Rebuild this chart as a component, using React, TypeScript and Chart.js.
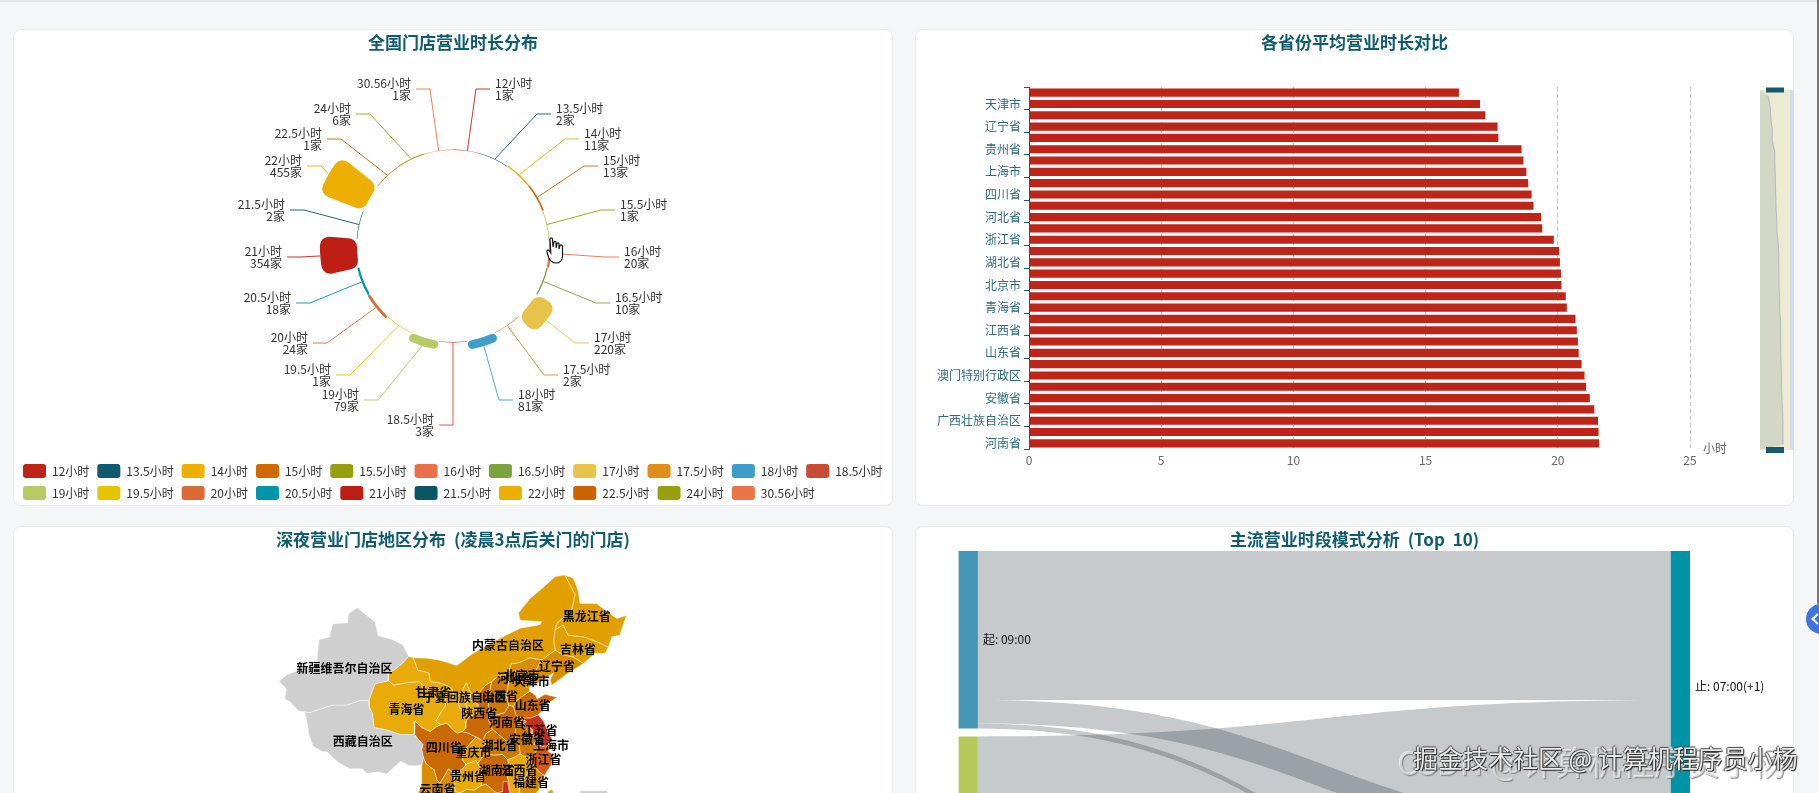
import React, { useEffect, useRef } from "react";
import Chart from "chart.js/auto";

const FONT = '"Noto Sans CJK SC", "Noto Sans", sans-serif';
const TEAL = "#0f5c6e";
Chart.defaults.font.family = FONT;
Chart.defaults.font.size = 12;

// ---- 全国门店营业时长分布
const hourLabels = ["12小时", "13.5小时", "14小时", "15小时", "15.5小时", "16小时", "16.5小时", "17小时", "17.5小时", "18小时", "18.5小时", "19小时", "19.5小时", "20小时", "20.5小时", "21小时", "21.5小时", "22小时", "22.5小时", "24小时", "30.56小时"];
const hourStores = [1, 2, 11, 13, 1, 20, 10, 220, 2, 81, 3, 79, 1, 24, 18, 354, 2, 455, 1, 6, 1];
const hourColors = ["#bd2319", "#115a6e", "#eeb000", "#d06a00", "#96a00e", "#e8714a", "#7ba33f", "#e8c34a", "#e08e1b", "#3f9ec9", "#ca4b35", "#b7ca66", "#e8c400", "#d96a36", "#0095a8", "#bd1f14", "#0a5566", "#eeb000", "#cc6200", "#98a00f", "#ea7348"];
// where each leader line bends, measured from the pie centre
const leaderBends = [[23, -157], [84, -132], [112, -107], [131, -80], [148, -36], [152, 11], [143, 57], [122, 97], [91, 129], [46, 154], [0, 179], [-75, 154], [-103, 129], [-126, 97], [-143, 57], [-152, 11], [-149, -36], [-132, -80], [-112, -107], [-83, -132], [-23, -157]];
const PIE_HOLE = 96;

// ---- 各省份平均营业时长对比 (top to bottom, only every other name is shown)
const provinceNames = ["吉林省", "天津市", "黑龙江省", "辽宁省", "内蒙古自治区", "贵州省", "甘肃省", "上海市", "宁夏回族自治区", "四川省", "山西省", "河北省", "陕西省", "浙江省", "云南省", "湖北省", "重庆市", "北京市", "海南省", "青海省", "湖南省", "江西省", "福建省", "山东省", "江苏省", "澳门特别行政区", "广东省", "安徽省", "香港特别行政区", "广西壮族自治区", "新疆维吾尔自治区", "河南省"];
const provinceHours = [16.26, 17.06, 17.26, 17.72, 17.75, 18.63, 18.7, 18.81, 18.88, 19.01, 19.08, 19.37, 19.41, 19.85, 20.05, 20.08, 20.12, 20.14, 20.3, 20.34, 20.67, 20.72, 20.76, 20.79, 20.9, 21.01, 21.07, 21.21, 21.38, 21.52, 21.54, 21.56];

// ---- 深夜营业门店地区分布: outlines in lon/lat, first listed is drawn on top
const mapNames = ["北京市", "天津市", "上海市", "重庆市", "广东省", "新疆维吾尔自治区", "西藏自治区", "青海省", "甘肃省", "宁夏回族自治区", "内蒙古自治区", "黑龙江省", "吉林省", "辽宁省", "河北省", "山西省", "山东省", "河南省", "陕西省", "四川省", "云南省", "贵州省", "湖北省", "安徽省", "江苏省", "浙江省", "江西省", "福建省", "湖南省", "广西壮族自治区", "台湾省", "南海诸岛"];
const mapStores = [20, 24, 18, 12, 160, 0, 0, 2, 4, 3, 8, 9, 10, 14, 22, 38, 65, 68, 55, 50, 20, 4, 44, 42, 130, 90, 5, 24, 66, 15, 1, 0];
const mapOutlines = [
  [[115.5, 40], [116.1, 40.9], [117.2, 40.6], [117.3, 40], [116.6, 39.5], [115.9, 39.6]],
  [[116.8, 39.7], [117.5, 40.2], [118, 39.2], [117.7, 38.6], [117, 38.9]],
  [[120.9, 31], [121.3, 31.5], [121.9, 31], [121.5, 30.7]],
  [[108.3, 32.2], [109.5, 31.7], [110.1, 31.4], [109.2, 30.5], [109.3, 29.4], [108.6, 28.7], [108.3, 29.1], [106.5, 28.6], [105.9, 29.2], [106.1, 30.2], [106.9, 31]],
  [[114.2, 24.9], [113.9, 26.3], [113.1, 26.3], [113, 25], [112, 24.8], [111.5, 23.6], [110.5, 22.4], [109.5, 21.5], [109.9, 21.5], [110.3, 20.3], [111.8, 21.6], [114.2, 22.3], [116, 22.9], [117.2, 23.6], [116.9, 24.7], [116, 24.8], [114.9, 24.6]],
  [[73.5, 39.5], [74.9, 40.4], [76.8, 40.9], [78.6, 41.4], [80.2, 42.1], [80.3, 43.3], [80.6, 45], [82.4, 45.3], [83, 47.1], [85.6, 47.2], [85.8, 48.4], [87.3, 49.2], [88.8, 48.3], [90.5, 47.3], [91, 45.5], [93.5, 45], [95.4, 44.3], [96.4, 42.8], [95.2, 41.8], [93.8, 41], [92.8, 40.6], [92.8, 39.6], [90.5, 39.2], [90, 38.3], [89.4, 37], [87.8, 37], [85.5, 36.4], [83, 36.4], [80.5, 35.8], [79, 35.4], [78, 35.5], [77, 35.6], [75.5, 36.8], [74.5, 37.2], [74.8, 38.5]],
  [[78, 35.5], [79, 35.4], [80.5, 35.8], [83, 36.4], [85.5, 36.4], [87.8, 37], [89.4, 37], [89.4, 36.2], [90, 35.3], [90.3, 33.4], [92, 33.2], [93, 33], [95, 32.5], [97.4, 32.5], [98.9, 31.2], [98.7, 30.5], [99, 29.5], [98.7, 28.5], [97.6, 28.4], [96.5, 28.4], [95, 29], [92.5, 27.3], [91, 27.6], [89, 27.4], [88.2, 28], [86, 28], [84, 28.8], [82, 30.2], [81, 30.3], [79.5, 31], [78.8, 32.5], [78.5, 34]],
  [[90.5, 39.2], [92.8, 39.6], [93.8, 39], [96, 39.3], [98.3, 39.5], [99.5, 38.5], [101.5, 37.8], [102.8, 37.3], [102.9, 36.3], [102, 35.3], [101.2, 34.3], [102, 33.8], [101.2, 33.5], [100.2, 32.9], [98.8, 33.4], [97.5, 34.3], [97.4, 32.5], [95, 32.5], [93, 33], [92, 33.2], [90.3, 33.4], [90, 35.3], [89.4, 36.2], [89.4, 37], [90, 38.3]],
  [[96.4, 42.8], [97.2, 42.6], [98, 41], [100, 40.6], [100.2, 39.5], [102.4, 39.2], [104, 38.6], [104.4, 37.5], [105, 37.3], [105.4, 36], [106.2, 35.4], [106.8, 35.7], [106.5, 36.6], [107.3, 37.1], [108.7, 36.5], [108.6, 35.3], [107.2, 34.9], [106.5, 34.3], [106.5, 33.4], [105.9, 32.9], [105, 32.7], [104.4, 33], [103.2, 34], [102, 33.8], [101.2, 34.3], [102, 35.3], [102.9, 36.3], [102.8, 37.3], [101.5, 37.8], [99.5, 38.5], [98.3, 39.5], [96, 39.3], [93.8, 39], [92.8, 39.6], [92.8, 40.6], [93.8, 41], [95.2, 41.8]],
  [[106.6, 39.3], [107.3, 38], [107.3, 37.1], [106.5, 36.6], [106.8, 35.7], [106.2, 35.4], [105.4, 36], [105, 37.3], [105.9, 38.3]],
  [[97.2, 42.6], [99.6, 42.55], [101.9, 42.3], [104.9, 41.6], [107.8, 43.2], [111.4, 44.75], [116.1, 46.5], [119.6, 46.94], [119.9, 47.35], [116.1, 47.56], [115.8, 48.5], [117.8, 50.37], [120.2, 51.9], [122.3, 53.3], [124, 53.5], [125.8, 50.9], [125.2, 48.9], [122.6, 47.14], [122.3, 46.31], [122, 44.75], [122.3, 43.6], [119.9, 42.35], [117.8, 42.6], [116, 42], [114.5, 41.8], [113.9, 40.4], [112.2, 40.2], [111.1, 39.5], [110, 39], [108.5, 37.7], [107.3, 38], [106.6, 39.3], [105.9, 38.3], [105, 37.3], [104.4, 37.5], [104, 38.6], [102.4, 39.2], [100.2, 39.5], [100, 40.6], [98, 41]],
  [[124, 53.5], [125.5, 53.08], [126.3, 51.52], [126.7, 49.75], [129.6, 49.75], [131.1, 48.9], [133.2, 47.77], [134.9, 48.19], [134.2, 46.73], [133.7, 45.58], [132.3, 45.37], [131.7, 44.02], [129.6, 44.75], [127.3, 45.37], [124.6, 45.58], [123.7, 46.94], [122.3, 46.31], [122.6, 47.14], [125.2, 48.9], [125.8, 50.9]],
  [[122.3, 46.31], [123.7, 46.94], [124.6, 45.58], [127.3, 45.37], [129.6, 44.75], [131.7, 44.02], [131.1, 43.2], [129.3, 43.2], [127.3, 41.85], [125.5, 42.7], [123.7, 43], [122.3, 43.6], [122, 44.75]],
  [[122.3, 43.6], [123.7, 43], [125.5, 42.7], [127.3, 41.85], [124.6, 40.6], [121.7, 39], [121.4, 39.7], [122, 40.6], [119.6, 39.5], [118.7, 40.6], [119.9, 42.35]],
  [[114.1, 39.5], [113.9, 40.4], [114.5, 41.8], [116, 42], [117.8, 42.6], [119.9, 42.35], [118.7, 40.6], [119.6, 39.5], [118.9, 39.1], [117.8, 38.8], [117.8, 38.2], [117, 37.8], [115.5, 37], [114.9, 36.2], [114.1, 36.4], [113.7, 37.5]],
  [[111.1, 39.5], [112.2, 40.2], [113.9, 40.4], [114.1, 39.5], [113.7, 37.5], [114.1, 36.4], [113.4, 35.4], [112, 35.1], [110.4, 34.7], [110.6, 36], [110.5, 37.5]],
  [[115.5, 37], [117, 37.8], [117.8, 38.2], [118.9, 37.6], [119.1, 37.2], [120.5, 37.8], [122.6, 37.4], [121, 36.6], [119.3, 35.1], [118, 34.7], [116.4, 34.7], [115.4, 35], [114.9, 36.2]],
  [[114.9, 36.2], [115.4, 35], [116.4, 34.7], [116, 33.9], [115.4, 33.6], [115.2, 32.6], [115.4, 31.6], [114.5, 31.7], [113.6, 31.7], [112.5, 32.4], [111.2, 33.2], [110.9, 33.7], [110.4, 34.7], [112, 35.1], [113.4, 35.4], [114.1, 36.4]],
  [[110, 39], [111.1, 39.5], [110.5, 37.5], [110.6, 36], [110.4, 34.7], [110.9, 33.7], [111.2, 33.2], [110, 32.6], [109.5, 31.7], [108.3, 32.2], [106.9, 32.7], [105.9, 32.9], [106.5, 33.4], [106.5, 34.3], [107.2, 34.9], [108.6, 35.3], [108.7, 36.5], [107.3, 37.1], [107.3, 38], [108.5, 37.7]],
  [[97.5, 34.3], [98.8, 33.4], [100.2, 32.9], [101.2, 33.5], [102, 33.8], [103.2, 34], [104.4, 33], [105, 32.7], [105.9, 32.9], [106.9, 32.7], [108.3, 32.2], [106.9, 31], [106.1, 30.2], [105.9, 29.2], [106.5, 28.6], [106.2, 28.2], [105.3, 27.7], [104.4, 27.5], [103.4, 28], [102.9, 27.3], [101.9, 26.1], [101.4, 26.6], [100.9, 27.9], [100.1, 28.3], [99.5, 28.7], [99, 29.5], [98.7, 30.5], [98.9, 31.2], [97.4, 32.5]],
  [[98.7, 28.5], [99, 29.5], [99.5, 28.7], [100.1, 28.3], [100.9, 27.9], [101.4, 26.6], [101.9, 26.1], [102.9, 27.3], [103.4, 28], [104.4, 27.5], [104.4, 26.5], [104.6, 25], [105.5, 24.8], [106, 23.2], [104, 22.8], [102, 21.2], [101, 21.8], [99.2, 22], [97.6, 24], [98.7, 25.9], [98.7, 27.5]],
  [[105.3, 27.7], [106.2, 28.2], [106.5, 28.6], [108.3, 29.1], [108.6, 28.7], [109.3, 27.8], [109.5, 26.8], [109.2, 25.8], [108, 25.2], [106.6, 25.3], [105.5, 24.8], [104.6, 25], [104.4, 26.5], [104.4, 27.5]],
  [[111.2, 33.2], [112.5, 32.4], [113.6, 31.7], [114.5, 31.7], [115.4, 31.6], [115.9, 31.2], [116.1, 30], [115.2, 29.6], [113.9, 29.2], [113, 29.9], [111.5, 29.8], [110, 30], [109.5, 29.6], [109.3, 29.4], [109.2, 30.5], [110.1, 31.4], [109.5, 31.7], [110, 32.6]],
  [[116.4, 34.6], [117.2, 34.2], [116.6, 33.9], [118.2, 33.2], [118.2, 32.5], [119.2, 32.1], [118.5, 31.2], [119.5, 31.1], [118.9, 30.3], [118, 29.5], [116.6, 29.7], [116.1, 30], [115.9, 31.2], [115.4, 31.6], [115.2, 32.6], [115.4, 33.6], [116, 33.9]],
  [[116.4, 34.7], [118, 34.7], [119.3, 35.1], [120.3, 34.2], [120.9, 33], [121.9, 31.7], [121.3, 31.5], [120.9, 31], [120, 31], [119.5, 31.1], [118.5, 31.2], [119.2, 32.1], [118.2, 32.5], [118.2, 33.2], [116.6, 33.9], [117.2, 34.2]],
  [[118.9, 30.3], [119.5, 31.1], [120, 31], [120.9, 31], [121.5, 30.7], [121, 30.3], [122, 29.9], [121.6, 28.5], [120.8, 27.6], [120.4, 27.1], [119.5, 27.6], [118.8, 28.2], [118.1, 28.9], [118, 29.5]],
  [[116.1, 30], [116.6, 29.7], [118, 29.5], [118.1, 28.9], [118.2, 28], [117.2, 27.2], [116.6, 26.5], [116, 25.5], [116, 24.8], [114.9, 24.6], [114.2, 24.9], [114.1, 26.3], [113.8, 27], [114.2, 28.2], [113.9, 29.2], [115.2, 29.6]],
  [[118.1, 28.9], [118.8, 28.2], [119.5, 27.6], [120.4, 27.1], [119.6, 26], [119.5, 25.3], [118.6, 24.5], [117.2, 23.6], [116.9, 24.7], [116, 24.8], [116, 25.5], [116.6, 26.5], [117.2, 27.2], [118.2, 28]],
  [[110, 30], [111.5, 29.8], [113, 29.9], [113.9, 29.2], [114.2, 28.2], [113.8, 27], [114.1, 26.3], [114.2, 24.9], [113, 25], [112, 24.8], [111.3, 25.2], [110, 26], [109.2, 25.8], [109.5, 26.8], [109.3, 27.8], [108.6, 28.7], [109.3, 29.4], [109.5, 29.6]],
  [[105.5, 24.8], [106.6, 25.3], [108, 25.2], [109.2, 25.8], [110, 26], [111.3, 25.2], [112, 24.8], [111.5, 23.6], [110.5, 22.4], [109.5, 21.5], [108, 21.6], [106.7, 22], [106, 23.2]],
  [[121.6, 25.3], [122, 25], [121, 22], [120.2, 23], [121, 25]],
  [[126.7, 25.1], [131.6, 25.1], [131.6, 15], [126.7, 15]],
];
// upper limit of each colour band, stores
const mapBandLimits = [0, 5, 12, 25, 45, 70, 100, 9999];
const mapBandColors = ["#cfcfcf", "#e8ab0a", "#e2a000", "#d98e00", "#ce7a00", "#c96a05", "#d65a14", "#c4301d"];
const mapLabels = ["黑龙江省", "内蒙古自治区", "吉林省", "辽宁省", "新疆维吾尔自治区", "北京市", "河北省", "天津市", "甘肃省", "宁夏回族自治区", "山西省", "青海省", "山东省", "陕西省", "河南省", "江苏省", "西藏自治区", "安徽省", "四川省", "湖北省", "上海市", "重庆市", "浙江省", "湖南省", "江西省", "贵州省", "福建省", "云南省"];
const mapLabelPoints = [[127.86, 48.01], [113.96, 44.2], [126.33, 43.77], [122.62, 41.43], [85.06, 41.23], [116.38, 40.34], [115.2, 39.95], [118.15, 39.46], [100.76, 38.02], [106.36, 37.41], [112.55, 37.58], [96.01, 35.83], [118.32, 36.4], [108.89, 35.31], [113.78, 34.07], [119.54, 33.07], [88.3, 31.66], [117.32, 31.89], [102.6, 30.83], [112.44, 31.13], [121.56, 31.13], [107.88, 30.17], [120.25, 29.29], [111.95, 27.8], [115.99, 27.8], [106.88, 27.05], [118.02, 26.23], [101.49, 25.3]];

// ---- 主流营业时段模式分析 (Top 10)
const openNodes = ["起: 09:00", "起: 10:00"];
const closeNodes = ["止: 07:00(+1)", "止: 22:00", "止: 21:00"];
const openNodeColors = ["#4596b6", "#b7c958"];
const closeNodeColors = ["#0095a6", "#0a5566", "#eeb000"];
const flowFrom = [0, 0, 0, 1, 1];
const flowTo = [0, 1, 2, 0, 1];
const flowStores = [745, 117, 25, 608, 430];
const NODE_GAP = 40;
const NODE_W = 0.0264;

const stackNodes = (count: number, sizeOf: (i: number) => number) => {
  const tops: number[] = [];
  let y = 0;
  for (let i = 0; i < count; i++) {
    tops.push(y);
    y += sizeOf(i) + NODE_GAP;
  }
  return tops;
};
const sumFlows = (keys: number[], i: number) =>
  flowStores.reduce((a, v, k) => (keys[k] === i ? a + v : a), 0);
const openTops = stackNodes(openNodes.length, (i) => sumFlows(flowFrom, i));
const closeTops = stackNodes(closeNodes.length, (i) => sumFlows(flowTo, i));

const nodeBox = (left: number, top: number, size: number) => [
  { x: left, y: top },
  { x: left + NODE_W, y: top },
  { x: left + NODE_W, y: top + size },
  { x: left, y: top + size },
  { x: left, y: top },
];

const rosePlugin = {
  id: "rose",
  beforeDatasetsDraw(chart: any) {
    chart.getDatasetMeta(0).data.forEach((arc: any) => {
      arc.innerRadius = PIE_HOLE;
    });
  },
  afterDatasetsDraw(chart: any) {
    const { ctx } = chart;
    ctx.save();
    ctx.font = "12px " + FONT;
    ctx.lineWidth = 1;
    ctx.textBaseline = "middle";
    chart.getDatasetMeta(0).data.forEach((arc: any, i: number) => {
      const mid = (arc.startAngle + arc.endAngle) / 2;
      const [dx, dy] = leaderBends[i];
      const side = dx > 0 ? 1 : -1;
      const bx = arc.x + dx;
      const by = arc.y + dy;
      ctx.globalAlpha = 0.9;
      ctx.strokeStyle = hourColors[i];
      ctx.beginPath();
      ctx.moveTo(arc.x + Math.cos(mid) * arc.outerRadius, arc.y + Math.sin(mid) * arc.outerRadius);
      ctx.lineTo(bx, by);
      ctx.lineTo(bx + side * 14, by);
      ctx.stroke();
      ctx.globalAlpha = 1;
      ctx.fillStyle = "#333";
      ctx.textAlign = side > 0 ? "left" : "right";
      ctx.fillText(hourLabels[i], bx + side * 19, by - 6);
      ctx.fillText(hourStores[i] + "家", bx + side * 19, by + 6);
    });
    ctx.restore();
  },
};

const sliderPlugin = {
  id: "slider",
  afterDraw(chart: any) {
    const { ctx, chartArea } = chart;
    const top = chartArea.top + 3;
    const bottom = chartArea.bottom + 1;
    const rowH = (bottom - top) / provinceHours.length;
    ctx.save();
    ctx.fillStyle = "#ecebd1";
    ctx.fillRect(845, top, 30, bottom - top);
    ctx.fillStyle = "#d4dbec";
    ctx.fillRect(875, top, 4, bottom - top);
    ctx.beginPath();
    ctx.moveTo(845, top);
    const shadow = provinceHours.map((v, i) => [853 + (v - 16.26) * 2.83, top + rowH * (i + 0.5)]);
    shadow.forEach(([x, y]) => ctx.lineTo(x, y));
    ctx.lineTo(845, bottom);
    ctx.closePath();
    ctx.fillStyle = "#d3d7c6";
    ctx.fill();
    ctx.strokeStyle = "#b4b9bf";
    ctx.beginPath();
    shadow.forEach(([x, y], i) => (i ? ctx.lineTo(x, y) : ctx.moveTo(x, y)));
    ctx.stroke();
    ctx.fillStyle = "#17586c";
    ctx.fillRect(851, top - 2.5, 18, 5);
    ctx.fillRect(851, bottom - 3, 18, 6);
    ctx.font = "12px " + FONT;
    ctx.fillStyle = "#666";
    ctx.textAlign = "center";
    ctx.textBaseline = "middle";
    ctx.fillText("小时", 800, chartArea.bottom - 1);
    ctx.restore();
  },
};

const mapLabelPlugin = {
  id: "mapLabels",
  afterDatasetsDraw(chart: any) {
    const { ctx, scales } = chart;
    ctx.save();
    ctx.font = "bold 12px " + FONT;
    ctx.fillStyle = "#000";
    ctx.textAlign = "center";
    ctx.textBaseline = "middle";
    mapLabels.forEach((name, i) => {
      const [lon, lat] = mapLabelPoints[i];
      ctx.fillText(name, scales.x.getPixelForValue(lon), scales.y.getPixelForValue(lat));
    });
    ctx.restore();
  },
};

const sankeyPlugin = {
  id: "sankey",
  beforeDatasetsDraw(chart: any) {
    const { ctx, scales } = chart;
    const x0 = scales.x.getPixelForValue(NODE_W);
    const x1 = scales.x.getPixelForValue(1 - NODE_W);
    const mid = (x0 + x1) / 2;
    const fromY = [...openTops];
    const toY = [...closeTops];
    ctx.save();
    ctx.fillStyle = "rgba(5, 22, 36, 0.228)";
    flowStores.forEach((v, i) => {
      const a = flowFrom[i];
      const b = flowTo[i];
      const y0 = scales.y.getPixelForValue(fromY[a]);
      const y0b = scales.y.getPixelForValue(fromY[a] + v);
      const y1 = scales.y.getPixelForValue(toY[b]);
      const y1b = scales.y.getPixelForValue(toY[b] + v);
      fromY[a] += v;
      toY[b] += v;
      ctx.beginPath();
      ctx.moveTo(x0, y0);
      ctx.bezierCurveTo(mid, y0, mid, y1, x1, y1);
      ctx.lineTo(x1, y1b);
      ctx.bezierCurveTo(mid, y1b, mid, y0b, x0, y0b);
      ctx.closePath();
      ctx.fill();
    });
    ctx.restore();
  },
  afterDatasetsDraw(chart: any) {
    const { ctx, scales } = chart;
    ctx.save();
    ctx.font = "12px " + FONT;
    ctx.fillStyle = "#111";
    ctx.textBaseline = "middle";
    ctx.textAlign = "left";
    openNodes.forEach((name, i) => {
      const y = openTops[i] + sumFlows(flowFrom, i) / 2;
      ctx.fillText(name, scales.x.getPixelForValue(NODE_W) + 5, scales.y.getPixelForValue(y));
    });
    closeNodes.forEach((name, i) => {
      const y = closeTops[i] + sumFlows(flowTo, i) / 2;
      ctx.fillText(name, scales.x.getPixelForValue(1) + 5, scales.y.getPixelForValue(y));
    });
    ctx.restore();
  },
};

const roseConfig = () => ({
  type: "polarArea",
  data: {
    labels: hourLabels,
    datasets: [
      {
        data: hourStores,
        backgroundColor: hourColors,
        borderWidth: 0,
        borderRadius: (ctx: any) => (hourStores[ctx.dataIndex] > 5 ? 9 : 0),
      },
    ],
  },
  plugins: [rosePlugin],
  options: {
    responsive: false,
    animation: false,
    layout: { padding: { top: 7.6 } },
    // the smallest count (1) sits exactly on the hole, so it draws no band
    scales: { r: { display: false, min: -928, max: 1085.4 } },
    plugins: {
      tooltip: { enabled: false },
      legend: {
        position: "bottom",
        align: "start",
        labels: {
          boxWidth: 23,
          boxHeight: 14,
          padding: 8,
          color: "#333",
          font: { size: 12, lineHeight: 15.3 / 12 },
          useBorderRadius: true,
          borderRadius: 3,
          generateLabels: (chart: any) =>
            Chart.overrides.polarArea.plugins.legend.labels
              .generateLabels(chart)
              .map((item: any) => ({ ...item, borderRadius: 3 })),
        },
      },
    },
  },
});

const barConfig = () => ({
  type: "bar",
  data: {
    labels: provinceNames,
    datasets: [{ data: provinceHours, backgroundColor: "#bf2419", barPercentage: 0.72, categoryPercentage: 1 }],
  },
  plugins: [sliderPlugin],
  options: {
    indexAxis: "y",
    responsive: false,
    animation: false,
    layout: { padding: { top: 58, right: 104 } },
    scales: {
      x: {
        min: 0,
        max: 25,
        ticks: { stepSize: 5, color: "#666", padding: 4 },
        grid: { color: "#c4c4c4", drawTicks: false },
        border: { display: false, dash: [4, 3] },
        afterFit: (s: any) => {
          s.height = 57;
        },
      },
      y: {
        ticks: {
          color: "#2f6b7a",
          autoSkip: false,
          padding: 3,
          callback(this: any, value: number, index: number) {
            return index % 2 ? this.getLabelForValue(value) : "";
          },
        },
        grid: {
          drawOnChartArea: false,
          tickLength: 5,
          tickColor: (ctx: any) => (ctx.index === undefined || ctx.index % 2 === 0 ? "#1d5a6c" : "transparent"),
        },
        border: { color: "#1d5a6c" },
        afterFit: (s: any) => {
          s.width = 114;
        },
      },
    },
    plugins: { legend: { display: false }, tooltip: { enabled: false } },
  },
});

const bandColor = (stores: number) => mapBandColors[mapBandLimits.findIndex((limit) => stores <= limit)];

const mapConfig = () => ({
  type: "scatter",
  data: {
    datasets: mapOutlines.map((outline, i) => ({
      label: mapNames[i],
      data: [...outline, outline[0]].map(([x, y]) => ({ x, y })),
      showLine: true,
      fill: "shape",
      backgroundColor: bandColor(mapStores[i]),
      borderColor: "rgba(255, 255, 255, 0.55)",
      borderWidth: 0.8,
      pointRadius: 0,
    })),
  },
  plugins: [mapLabelPlugin],
  options: {
    responsive: false,
    animation: false,
    scales: {
      x: { display: false, min: 26.5, max: 181.98 },
      y: { display: false, min: -2.82, max: 59.95 },
    },
    plugins: { legend: { display: false }, tooltip: { enabled: false } },
  },
});

const sankeyConfig = () => ({
  type: "scatter",
  data: {
    datasets: [
      ...openNodes.map((_, i) => ({
        data: nodeBox(0, openTops[i], sumFlows(flowFrom, i)),
        backgroundColor: openNodeColors[i],
      })),
      ...closeNodes.map((_, i) => ({
        data: nodeBox(1 - NODE_W, closeTops[i], sumFlows(flowTo, i)),
        backgroundColor: closeNodeColors[i],
      })),
    ].map((d) => ({ ...d, showLine: true, fill: "shape", borderWidth: 0, pointRadius: 0 })),
  },
  plugins: [sankeyPlugin],
  options: {
    responsive: false,
    animation: false,
    scales: {
      x: { display: false, min: -0.0596, max: 1.1422 },
      y: { display: false, reverse: true, min: -125, max: 2260 },
    },
    plugins: { legend: { display: false }, tooltip: { enabled: false } },
  },
});

function ChartCanvas({ config, left, top, width, height }: any) {
  const ref = useRef<HTMLCanvasElement | null>(null);
  useEffect(() => {
    if (!ref.current) return;
    const chart = new Chart(ref.current, config());
    return () => chart.destroy();
  }, []);
  return <canvas ref={ref} width={width} height={height} style={{ position: "absolute", left, top, width, height }} />;
}

function Card({ left, top, width, title, children }: any) {
  return (
    <>
      <div
        style={{
          position: "absolute",
          left,
          top,
          width,
          height: 477,
          boxSizing: "border-box",
          background: "#fff",
          border: "1px solid #e9ebee",
          borderRadius: 8,
        }}
      />
      {children}
      <div
        style={{
          position: "absolute",
          left,
          top: top + 1,
          width,
          textAlign: "center",
          font: "bold 17px/24px " + FONT,
          wordSpacing: 4,
          color: TEAL,
        }}
      >
        {title}
      </div>
    </>
  );
}

export default function App() {
  return (
    <div
      style={{
        position: "fixed",
        left: 0,
        top: 0,
        width: 1819,
        height: 793,
        overflow: "hidden",
        background: "#f4f6f8",
      }}
    >
      <div style={{ position: "absolute", left: 0, top: 0, width: 1819, height: 2, background: "#e4e6e9" }} />
      <Card left={13} top={29} width={880} title="全国门店营业时长分布">
        <ChartCanvas config={roseConfig} left={15} top={29} width={876} height={481} />
      </Card>
      <Card left={915} top={29} width={879} title="各省份平均营业时长对比">
        <ChartCanvas config={barConfig} left={915} top={29} width={879} height={477} />
      </Card>
      <Card left={13} top={526} width={880} title="深夜营业门店地区分布 (凌晨3点后关门的门店)">
        <ChartCanvas config={mapConfig} left={13} top={526} width={880} height={477} />
      </Card>
      <Card left={915} top={526} width={879} title="主流营业时段模式分析 (Top 10)">
        <ChartCanvas config={sankeyConfig} left={915} top={526} width={879} height={477} />
      </Card>

      {/* pointer left over in the screenshot */}
      <svg style={{ position: "absolute", left: 546, top: 237 }} width="18" height="27" viewBox="0 0 18 27">
        <path
          d="M4 2 C4 0.5 6.5 0.5 6.5 2 L7 10 L8 5 C8.5 4 10 4 10 5.5 L10.2 11 L11 6.5 C11.5 5.5 13 5.5 13 7 L13 12 L14 8.5 C14.5 7.5 16.5 8 16.5 9.5 L16.5 19 C16.5 23 14 26 10 26 C6 26 4 24 2.5 20 L1 15 C0.5 13 2.5 12.5 3.5 14 L4.8 16 Z"
          fill="#fff"
          stroke="#1a1a1a"
          strokeWidth="1.2"
        />
      </svg>

      {/* screenshot watermark */}
      <div
        style={{
          position: "absolute",
          left: 1397,
          top: 741,
          whiteSpace: "nowrap",
          font: "33px/40px " + FONT,
          color: "rgba(255, 255, 255, 0.6)",
          textShadow: "1px 1px 1px rgba(110, 110, 110, 0.75)",
        }}
      >
        CSDN @计算机程序员小杨
      </div>
      <div
        style={{
          position: "absolute",
          left: 1413,
          top: 741,
          whiteSpace: "nowrap",
          font: "25px/32px " + FONT,
          color: "rgba(255, 255, 255, 0.9)",
          textShadow: "1px 1px 1px #222, -1px 0 1px #444, 0 -1px 1px #444",
        }}
      >
        掘金技术社区 @ 计算机程序员小杨
      </div>

      {/* page furniture on the right edge */}
      <div style={{ position: "absolute", left: 1817, top: 0, width: 2, height: 604, background: "#777" }} />
      <div
        style={{ position: "absolute", left: 1806, top: 604, width: 30, height: 30, borderRadius: "50%", background: "#3f74dc" }}
      />
      <div
        style={{
          position: "absolute",
          left: 1813,
          top: 615,
          width: 6,
          height: 6,
          borderLeft: "2px solid #fff",
          borderBottom: "2px solid #fff",
          transform: "rotate(45deg)",
        }}
      />
    </div>
  );
}
